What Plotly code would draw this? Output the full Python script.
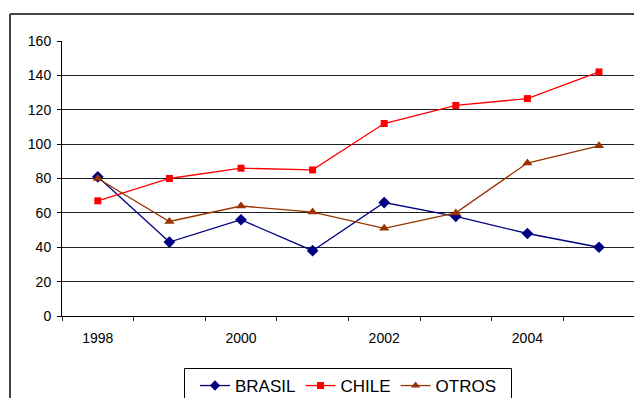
import plotly.graph_objects as go

# Annual series, 1998-2005
years = ["1998", "1999", "2000", "2001", "2002", "2003", "2004", "2005"]
brasil = [81, 43, 56, 38, 66, 58, 48, 40]
chile = [67, 80, 86, 85, 112, 122.5, 126.5, 142]
otros = [80, 55, 64, 60.5, 51, 60, 89, 99]
label_years = ["1998", "2000", "2002", "2004"]

x_idx = list(range(len(years)))

W, H = 634, 398
L, R, T, B = 62, 0, 41, 82
pw, ph = W - L - R, H - T - B

def px_x(px):
    return (px - L) / pw

def px_y(py):
    return (H - B - py) / ph

series = [
    ("BRASIL", brasil, "#000080", "diamond", 9, 8),
    ("CHILE", chile, "#FF0000", "square", 7, 7),
    ("OTROS", otros, "#993300", "triangle-up", 9, 8),
]

fig = go.Figure()
for name, vals, col, sym, size, leg_size in series:
    fig.add_trace(go.Scatter(
        x=x_idx, y=vals, name=name, mode="lines+markers", showlegend=False,
        line=dict(color=col, width=1.3),
        marker=dict(symbol=sym, size=size, color=col, line=dict(width=0)),
    ))
    # legend entry with a slightly smaller marker
    fig.add_trace(go.Scatter(
        x=[None], y=[None], name=name, mode="lines+markers",
        line=dict(color=col, width=1.3),
        marker=dict(symbol=sym, size=leg_size, color=col, line=dict(width=0)),
    ))

tick_pos = [years.index(y) for y in label_years]
fig.update_layout(
    width=W, height=H,
    margin=dict(l=L, r=R, t=T, b=B, pad=0, autoexpand=False),
    paper_bgcolor="white", plot_bgcolor="white",
    font=dict(family="Liberation Sans, Arial, sans-serif", size=14, color="black"),
    xaxis=dict(
        range=[-0.5, -0.5 + pw / 71.6],
        tickvals=tick_pos, ticktext=label_years,
        ticks="", showgrid=False, zeroline=False,
        showline=True, linecolor="black", linewidth=1,
        ticklabelstandoff=9,
        minor=dict(tickvals=[i - 0.5 for i in range(len(years) + 1)],
                   ticks="outside", ticklen=4, tickcolor="#333", tickwidth=1,
                   showgrid=False),
    ),
    yaxis=dict(
        range=[0, 160], tickvals=list(range(0, 161, 20)),
        ticks="outside", ticklen=4, tickcolor="black", tickwidth=1,
        showgrid=True, gridcolor="#222", gridwidth=1, zeroline=False,
        showline=True, linecolor="black", linewidth=1,
        ticklabelstandoff=3,
    ),
    legend=dict(
        orientation="h", x=px_x(195), y=px_y(368), xanchor="left", yanchor="top",
        bgcolor="rgba(0,0,0,0)", borderwidth=0,
        font=dict(size=17), itemwidth=30, tracegroupgap=0,
    ),
    shapes=[
        # outer chart frame (left and top edges)
        dict(type="line", xref="paper", yref="paper",
             x0=px_x(10), x1=px_x(10), y0=px_y(14), y1=px_y(420),
             line=dict(color="#444", width=2)),
        dict(type="line", xref="paper", yref="paper",
             x0=px_x(10), x1=px_x(660), y0=px_y(14), y1=px_y(14),
             line=dict(color="#444", width=2)),
        # legend box
        dict(type="rect", xref="paper", yref="paper",
             x0=px_x(184.5), x1=px_x(511.5), y0=px_y(420), y1=px_y(368.5),
             fillcolor="white", line=dict(color="black", width=1)),
    ],
)

fig.write_html("out.html")
